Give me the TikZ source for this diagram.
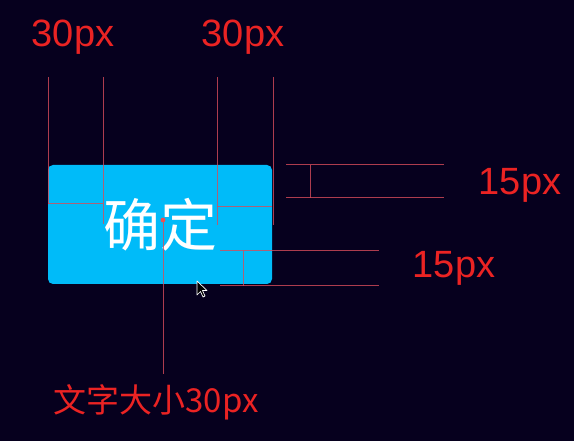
\documentclass[tikz,border=0pt]{standalone}
\usepackage{fontspec}
\setmainfont{Liberation Sans}
\newfontfamily\cjk{Noto Sans CJK SC}
\usepackage{tikz}
\definecolor{bgnavy}{RGB}{6,0,30}
\definecolor{btnblue}{RGB}{0,187,249}
\definecolor{guide}{RGB}{215,75,90}
\definecolor{lblred}{RGB}{235,35,35}
\tikzset{
  lbl/.style={text=lblred, inner sep=0pt, font=\fontsize{38}{41}\selectfont},
  guideline/.style={draw=guide, line width=1pt, opacity=0.8}
}
\begin{document}
\begin{tikzpicture}[x=1pt, y=-1pt, node distance=170pt]
		\fill[bgnavy] (0,0) rectangle (574,441);
		\useasboundingbox (0,0) rectangle (574,441);
		% button
		\fill[btnblue, rounded corners=5pt] (48,165) rectangle (272,284);
		\node (btn) at (160.5,225) [text=white, inner sep=0pt, font=\cjk\fontsize{57}{60}\selectfont] {确定};
		% labels
		\node (w1) at (73,37) [lbl] {30px};
		\node (w2) [lbl, right of=w1] {30px};
		\node (h1) at (520,185) [lbl] {15px};
		\node (h2) at (454,268) [lbl] {15px};
		\node (fs) at (156,402) [lbl, font=\cjk\fontsize{33}{36}\selectfont] {文字大小30px};
		% left padding
		\coordinate (a1) at (48,77);  \coordinate (a2) at (48,204);
		\coordinate (b1) at (103,77); \coordinate (b2) at (103,224);
		\draw[guideline] (a1) -- (a2);
		\draw[guideline] (b1) -- (b2);
		\draw[guideline] (a2) -- (b2 |- a2);
		% right padding
		\coordinate (c1) at (217,77); \coordinate (c2) at (217,225);
		\coordinate (d1) at (273,77); \coordinate (d2) at (273,225);
		\draw[guideline] (c1) -- (c2);
		\draw[guideline] (d1) -- (d2);
		\draw[guideline] (217,207) -- (272,207);
		% top padding
		\coordinate (e1) at (286,165); \coordinate (e2) at (444,165);
		\coordinate (f1) at (286,198); \coordinate (f2) at (444,198);
		\draw[guideline] (e1) -- (e2);
		\draw[guideline] (f1) -- (f2);
		\draw[guideline] (310,165) -- (310,198);
		% bottom padding
		\coordinate (g1) at (220,251); \coordinate (g2) at (379,251);
		\coordinate (k1) at (220,286); \coordinate (k2) at (379,286);
		\draw[guideline] (g1) -- (g2);
		\draw[guideline] (k1) -- (k2);
		\draw[guideline] (243,251) -- (243,286);
		% font size marker
		\coordinate (m) at (163,220);
		\coordinate (m2) at (163,374);
		\draw[guideline] (m) -- (m2);
		\fill[lblred!80!white] (m) circle (2.4pt);
		% mouse pointer
		\draw[white, fill=black, line width=0.7pt, line join=round]
			(197,281) -- (197,295) -- (200.5,291.5) -- (203,297) -- (205,296) -- (202.5,290.5) -- (207,290.5) -- cycle;
		\end{tikzpicture}
\end{document}
